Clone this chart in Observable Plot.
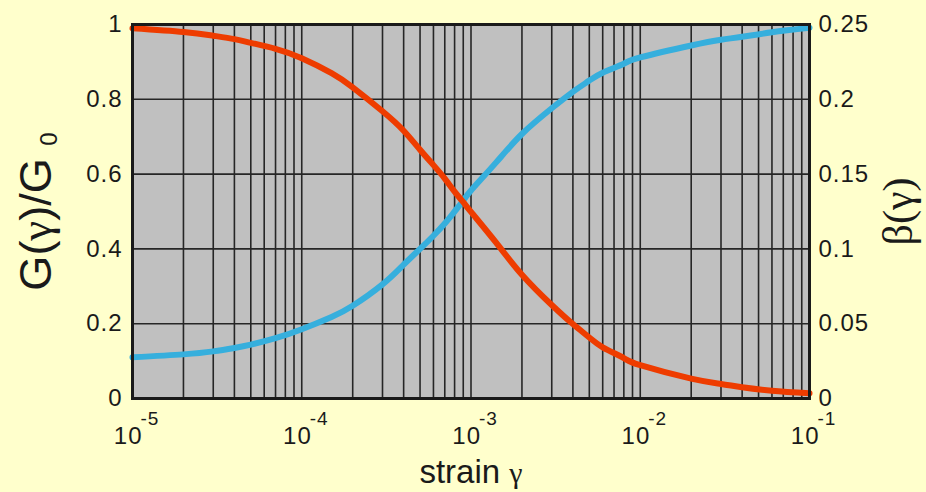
<!DOCTYPE html>
<html>
<head>
<meta charset="utf-8">
<script src="https://cdn.jsdelivr.net/npm/d3@7"></script>
<script src="https://cdn.jsdelivr.net/npm/@observablehq/plot@0.6"></script>
<style>
  html, body { margin: 0; padding: 0; background: #ffffcc; }
  #chart svg { display: block; background: #ffffcc; }
  .tick-lbl text { letter-spacing: 1px; }
</style>
</head>
<body>
<div id="chart"></div>
<script>
// ---- data ----
const strain = [1e-5, 2e-5, 3e-5, 4e-5, 5e-5, 7e-5, 1e-4, 1.5e-4, 2e-4, 3e-4, 4e-4, 5e-4, 6e-4, 7e-4, 8e-4, 9e-4,
                1e-3, 1.4e-3, 2e-3, 3e-3, 4e-3, 5e-3, 6e-3, 8e-3, 1e-2, 2e-2, 3e-2, 4e-2, 6e-2, 1e-1];
const modulusRatio = [0.99, 0.98, 0.97, 0.961, 0.951, 0.935, 0.91, 0.87, 0.832, 0.768, 0.716, 0.665, 0.624, 0.588, 0.553, 0.525,
                      0.499, 0.418, 0.331, 0.25, 0.199, 0.163, 0.137, 0.108, 0.089, 0.053, 0.039, 0.03, 0.021, 0.014];
const damping = [0.0275, 0.0295, 0.0315, 0.0338, 0.036, 0.0403, 0.0463, 0.0545, 0.062, 0.0763, 0.0895, 0.1, 0.1088, 0.117, 0.125, 0.1323,
                 0.139, 0.1575, 0.1768, 0.194, 0.205, 0.2125, 0.2178, 0.2238, 0.228, 0.236, 0.2398, 0.2418, 0.2448, 0.2478];

const xDecades = [1e-5, 1e-4, 1e-3, 1e-2, 1e-1];
const xExponents = ["-5", "-4", "-3", "-2", "-1"];
const leftTicks = [0, 0.2, 0.4, 0.6, 0.8, 1];
const leftTickLabels = ["0", "0.2", "0.4", "0.6", "0.8", "1"];
const rightTicks = [0, 0.05, 0.1, 0.15, 0.2, 0.25];
const rightTickLabels = ["0", "0.05", "0.1", "0.15", "0.2", "0.25"];
const betaMax = 0.25; // right axis maximum, matched to left axis maximum 1

// minor log grid (1..9 in each decade)
const xGrid = [];
xDecades.slice(0, -1).forEach(d => { for (let m = 1; m <= 9; m++) xGrid.push(d * m); });
xGrid.push(1e-1);

const gData = strain.map((s, i) => ({strain: s, v: modulusRatio[i]}));
const bData = strain.map((s, i) => ({strain: s, v: damping[i]}));

const RED = "#ee3c00";
const BLUE = "#36afdd";
const sans = "'Liberation Sans', Arial, Helvetica, sans-serif";
const serif = "'Liberation Serif', 'Times New Roman', serif";

const chart = Plot.plot({
  width: 926,
  height: 492,
  marginLeft: 132,
  marginRight: 117,
  marginTop: 24,
  marginBottom: 94,
  style: {background: "#ffffcc", fontFamily: sans},
  x: {type: "log", domain: [1e-5, 1e-1], axis: null},
  y: {domain: [0, 1], axis: null},
  marks: [
    Plot.frame({fill: "#c0c0c0", stroke: null}),
    Plot.ruleX(xGrid, {x: d => d, stroke: "#262626", strokeWidth: 1.6}),
    Plot.ruleY(leftTicks, {y: d => d, stroke: "#262626", strokeWidth: 1.6}),
    Plot.line(bData, {x: "strain", y: d => d.v / betaMax, stroke: BLUE, strokeWidth: 6, curve: "natural"}),
    Plot.line(gData, {x: "strain", y: "v", stroke: RED, strokeWidth: 6, curve: "natural"}),
    Plot.frame({stroke: "#1a1a1a", strokeWidth: 3}),
    // left tick labels
    Plot.text(leftTicks, {y: d => d, frameAnchor: "left", text: (d, i) => leftTickLabels[i],
      textAnchor: "end", lineAnchor: "middle", dx: -10, fontSize: 24, fill: "#1a1a1a", className: "tick-lbl"}),
    // right tick labels
    Plot.text(rightTicks, {y: d => d / betaMax, frameAnchor: "right", text: (d, i) => rightTickLabels[i],
      textAnchor: "start", lineAnchor: "middle", dx: 9, fontSize: 24, fill: "#1a1a1a", className: "tick-lbl"}),
    // x tick labels: base "10" and exponent
    Plot.text(xDecades, {x: d => d, frameAnchor: "bottom", text: () => "10",
      textAnchor: "end", lineAnchor: "middle", dx: 10, dy: 38, fontSize: 24, fill: "#1a1a1a", className: "tick-lbl"}),
    Plot.text(xDecades, {x: d => d, frameAnchor: "bottom", text: (d, i) => xExponents[i],
      textAnchor: "start", lineAnchor: "middle", dx: 8, dy: 20, fontSize: 19, fill: "#1a1a1a", className: "tick-lbl"}),
    // axis titles (content refined below)
    Plot.text(["ytitle"], {frameAnchor: "left", text: d => d, rotate: -90, dx: -96, textAnchor: "middle", lineAnchor: "middle",
      fontSize: 45, fill: "#1a1a1a", className: "ytitle"}),
    Plot.text(["y2title"], {frameAnchor: "right", text: d => d, rotate: -90, dx: 89, textAnchor: "middle", lineAnchor: "middle",
      fontSize: 42, fill: "#1a1a1a", className: "y2title"}),
    Plot.text(["xtitle"], {frameAnchor: "bottom", text: d => d, dy: 74, textAnchor: "middle", lineAnchor: "middle",
      fontSize: 33, fill: "#1a1a1a", className: "xtitle"})
  ]
});

const svg = d3.select(chart);
// left title: G(γ)/G 0
{
  const t = svg.select("g.ytitle text");
  t.text(null);
  t.append("tspan").attr("font-family", sans).text("G(");
  t.append("tspan").attr("font-family", serif).text("γ");
  t.append("tspan").attr("font-family", sans).text(")/G ");
  t.append("tspan").attr("font-family", sans).attr("font-size", 24).attr("dy", 6).text("0");
}
// right title: β(γ)
{
  const t = svg.select("g.y2title text");
  t.text(null);
  t.append("tspan").attr("font-family", serif).text("β(γ)");
}
// bottom title: strain γ
{
  const t = svg.select("g.xtitle text");
  t.text(null);
  t.append("tspan").attr("font-family", sans).text("strain ");
  t.append("tspan").attr("font-family", serif).attr("font-size", 30).text("γ");
}

document.getElementById("chart").appendChild(chart);
</script>
</body>
</html>
